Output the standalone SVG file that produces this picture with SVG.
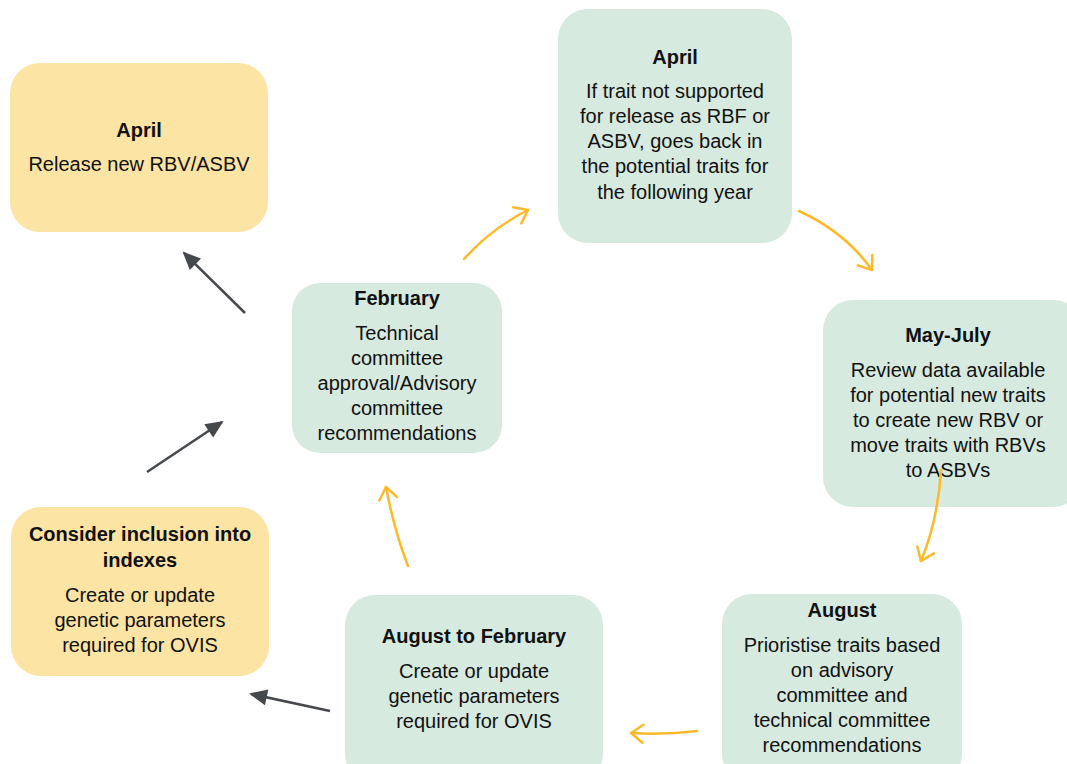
<svg xmlns="http://www.w3.org/2000/svg" width="1067" height="764" viewBox="0 0 1067 764">
<style>
.g{fill:#D7EADF}
.y{fill:#FCE4A4}
text{font-family:"Liberation Sans",Arial,sans-serif;font-size:20px;fill:#111;text-anchor:middle}
.b{font-weight:bold}
.o{fill:none;stroke:#FDB92A;stroke-width:2.5;stroke-linecap:round}
.d{fill:none;stroke:#45484D;stroke-width:2.5}
</style>
<defs>
<marker id="oa" markerUnits="userSpaceOnUse" markerWidth="30" markerHeight="30" refX="15" refY="15" orient="auto" viewBox="0 0 30 30">
<path d="M3,6 L15,15 L3,24" fill="none" stroke="#FDB92A" stroke-width="2.5" stroke-linecap="round" stroke-linejoin="round"/>
</marker>
<marker id="da" markerUnits="userSpaceOnUse" markerWidth="24" markerHeight="24" refX="18" refY="12" orient="auto" viewBox="0 0 24 24">
<path d="M2,4 L20,12 L2,20 Z" fill="#45484D"/>
</marker>
</defs>
<rect width="1067" height="764" fill="#fff"/>
<g id="n1">
<rect class="y" x="10" y="63" width="258" height="169" rx="30"/>
<text class="b" x="139" y="137">April</text>
<text x="139" y="171">Release new RBV/ASBV</text>
</g>
<g id="n2">
<rect class="g" x="558" y="9" width="234" height="234" rx="30"/>
<text class="b" x="675" y="64">April</text>
<text x="675" y="98">If trait not supported</text>
<text x="675" y="123">for release as RBF or</text>
<text x="675" y="148">ASBV, goes back in</text>
<text x="675" y="173">the potential traits for</text>
<text x="675" y="199">the following year</text>
</g>
<g id="n3">
<rect class="g" x="823" y="300" width="260" height="207" rx="30"/>
<text class="b" x="948" y="342">May-July</text>
<text x="948" y="377">Review data available</text>
<text x="948" y="402">for potential new traits</text>
<text x="948" y="427">to create new RBV or</text>
<text x="948" y="452">move traits with RBVs</text>
<text x="948" y="477">to ASBVs</text>
</g>
<g id="n4">
<rect class="g" x="722" y="594" width="240" height="190" rx="30"/>
<text class="b" x="842" y="617">August</text>
<text x="842" y="652">Prioristise traits based</text>
<text x="842" y="677">on advisory</text>
<text x="842" y="702">committee and</text>
<text x="842" y="727">technical committee</text>
<text x="842" y="752">recommendations</text>
</g>
<g id="n5">
<rect class="g" x="345" y="595" width="258" height="189" rx="30"/>
<text class="b" x="474" y="643">August to February</text>
<text x="474" y="678">Create or update</text>
<text x="474" y="703">genetic parameters</text>
<text x="474" y="728">required for OVIS</text>
</g>
<g id="n6">
<rect class="y" x="11" y="507" width="258" height="169" rx="30"/>
<text class="b" x="140" y="541">Consider inclusion into</text>
<text class="b" x="140" y="567">indexes</text>
<text x="140" y="602">Create or update</text>
<text x="140" y="627">genetic parameters</text>
<text x="140" y="652">required for OVIS</text>
</g>
<g id="n7">
<rect class="g" x="292" y="283" width="210" height="170" rx="28"/>
<text class="b" x="397" y="305">February</text>
<text x="397" y="340">Technical</text>
<text x="397" y="365">committee</text>
<text x="397" y="390">approval/Advisory</text>
<text x="397" y="415">committee</text>
<text x="397" y="440">recommendations</text>
</g>
<g id="connectors">
<path class="o" d="M464,259 Q492,228 528,210" marker-end="url(#oa)"/>
<path class="o" d="M799,211 Q845,232 872,270" marker-end="url(#oa)"/>
<path class="o" d="M941,470 Q938,520 921,561" marker-end="url(#oa)"/>
<path class="o" d="M697,731 Q665,735 631,733" marker-end="url(#oa)"/>
<path class="o" d="M408,566 Q394,530 386,487" marker-end="url(#oa)"/>
<path class="d" d="M245,313 L184,253" marker-end="url(#da)"/>
<path class="d" d="M147,472 L222,422" marker-end="url(#da)"/>
<path class="d" d="M330,711 L251,694" marker-end="url(#da)"/>
</g>
</svg>
